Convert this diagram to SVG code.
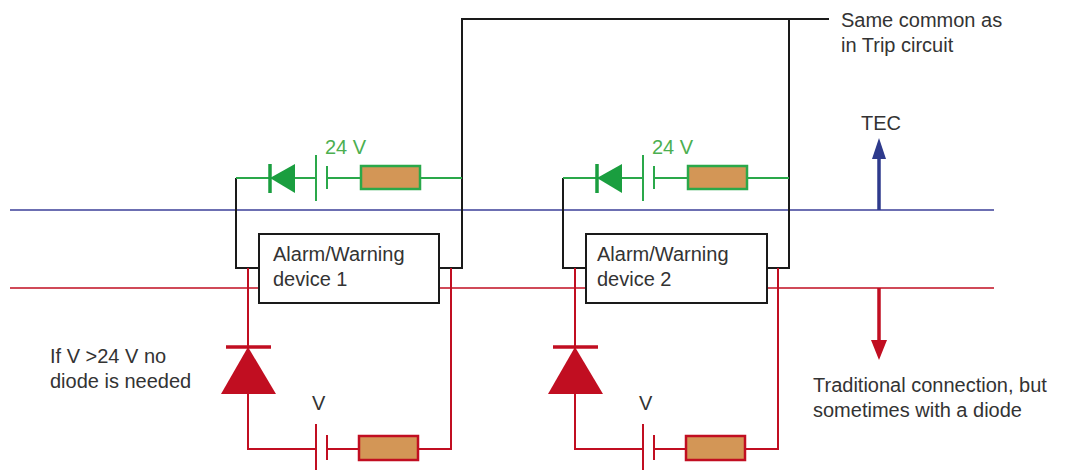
<svg xmlns="http://www.w3.org/2000/svg" width="1067" height="472" viewBox="0 0 1067 472">
<style>
text{font-family:"Liberation Sans",Arial,sans-serif;font-size:20px;fill:#333}
.g{fill:#4caf50}
.bk{stroke:#1a1a1a;stroke-width:2;fill:none}
.rd{stroke:#c10e21;stroke-width:2;fill:none}
.gr{stroke:#2aa84a;stroke-width:2;fill:none}
.res{fill:#d39656;stroke-width:2.5}
</style>
<rect width="1067" height="472" fill="#fff"/>
<g id="rails">
<line x1="10" y1="210" x2="994" y2="210" stroke="#3b3f99" stroke-width="1.6"/>
<line x1="10" y1="288" x2="994" y2="288" stroke="#c10e21" stroke-width="1.6"/>
</g>
<g id="connectors">
<polyline class="bk" points="259,268 236,268 236,178"/>
<polyline class="bk" points="439,268 462,268 462,19 829,19"/>
<polyline class="bk" points="586,268 563,268 563,178"/>
<polyline class="bk" points="767,268 789,268 789,19"/>
<line x1="879" y1="210" x2="879" y2="157" stroke="#2e3a8c" stroke-width="3.5"/>
<polygon points="879,138 872,159 886,159" fill="#2e3a8c"/>
<line x1="879" y1="288" x2="879" y2="342" stroke="#c10e21" stroke-width="3.5"/>
<polygon points="879,360 871,340 887,340" fill="#c10e21"/>
</g>
<g id="device1">
<rect x="259" y="234" width="180" height="69" fill="#fff" stroke="#1a1a1a" stroke-width="2"/>
<text x="273" y="261">Alarm/Warning</text>
<text x="273" y="286">device 1</text>
</g>
<g id="device2">
<rect x="586" y="234" width="181" height="69" fill="#fff" stroke="#1a1a1a" stroke-width="2"/>
<text x="597" y="261">Alarm/Warning</text>
<text x="597" y="286">device 2</text>
</g>
<g id="green1">
<line class="gr" x1="236" y1="178" x2="316" y2="178"/>
<line class="gr" x1="327" y1="178" x2="361" y2="178"/>
<line class="gr" x1="420" y1="178" x2="462" y2="178"/>
<polygon points="270,178 295,164 295,193" fill="#1a9e3f"/>
<line x1="270" y1="164" x2="270" y2="193" stroke="#1a9e3f" stroke-width="3.5"/>
<line class="gr" x1="316" y1="155" x2="316" y2="201"/>
<line class="gr" x1="327" y1="166" x2="327" y2="189"/>
<rect class="res" x="361" y="166" width="59" height="23" stroke="#2aa84a"/>
<text class="g" x="325" y="154">24 V</text>
</g>
<g id="green2">
<line class="gr" x1="563" y1="178" x2="643" y2="178"/>
<line class="gr" x1="654" y1="178" x2="688" y2="178"/>
<line class="gr" x1="747" y1="178" x2="789" y2="178"/>
<polygon points="597,178 622,164 622,193" fill="#1a9e3f"/>
<line x1="597" y1="164" x2="597" y2="193" stroke="#1a9e3f" stroke-width="3.5"/>
<line class="gr" x1="643" y1="155" x2="643" y2="201"/>
<line class="gr" x1="654" y1="166" x2="654" y2="189"/>
<rect class="res" x="688" y="166" width="59" height="23" stroke="#2aa84a"/>
<text class="g" x="652" y="154">24 V</text>
</g>
<g id="red1">
<polyline class="rd" points="248,268 248,449 316,449"/>
<polyline class="rd" points="327,449 359,449"/>
<polyline class="rd" points="418,449 451,449 451,268"/>
<line x1="226" y1="347" x2="271" y2="347" stroke="#c10e21" stroke-width="3.5"/>
<polygon points="248,347 221,394 276,394" fill="#c10e21"/>
<line class="rd" x1="316" y1="424" x2="316" y2="470"/>
<line class="rd" x1="327" y1="435" x2="327" y2="460"/>
<rect class="res" x="359" y="436" width="59" height="24" stroke="#c10e21"/>
<text x="312" y="410">V</text>
</g>
<g id="red2">
<polyline class="rd" points="575,268 575,449 643,449"/>
<polyline class="rd" points="654,449 686,449"/>
<polyline class="rd" points="745,449 778,449 778,268"/>
<line x1="553" y1="347" x2="598" y2="347" stroke="#c10e21" stroke-width="3.5"/>
<polygon points="575,347 548,394 603,394" fill="#c10e21"/>
<line class="rd" x1="643" y1="424" x2="643" y2="470"/>
<line class="rd" x1="654" y1="435" x2="654" y2="460"/>
<rect class="res" x="686" y="436" width="59" height="24" stroke="#c10e21"/>
<text x="639" y="410">V</text>
</g>
<g id="labels">
<text x="841" y="27">Same common as</text>
<text x="841" y="52">in Trip circuit</text>
<text x="861" y="130">TEC</text>
<text x="813" y="392">Traditional connection, but</text>
<text x="813" y="417">sometimes with a diode</text>
<text x="50" y="363">If V &gt;24 V no</text>
<text x="50" y="388">diode is needed</text>
</g>
</svg>
